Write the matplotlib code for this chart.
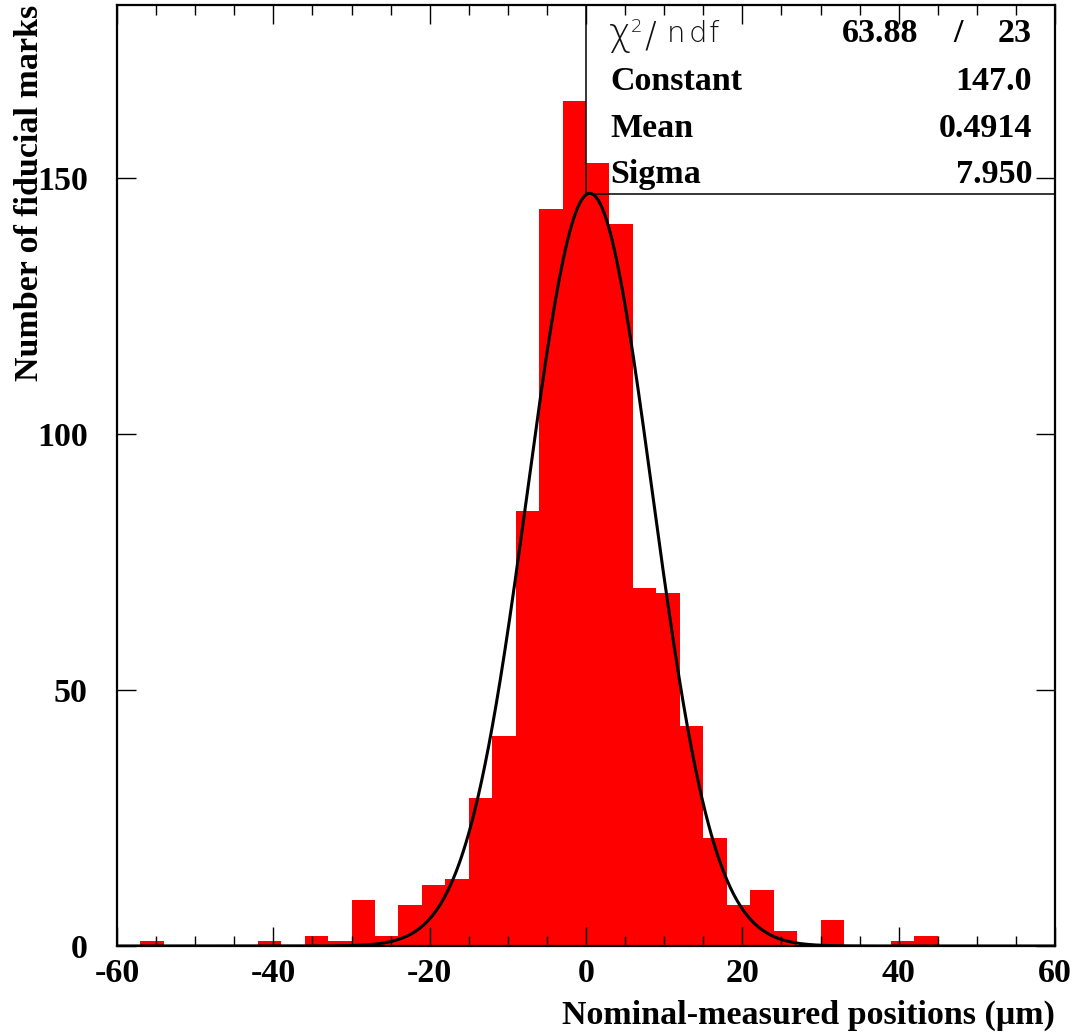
import numpy as np
import matplotlib
matplotlib.use("Agg")
import matplotlib.pyplot as plt
from matplotlib.lines import Line2D
from matplotlib.ticker import MultipleLocator, NullLocator

# ---- data ----
bin_edges = np.arange(-60, 61, 3)
counts = [0, 1, 0, 0, 0, 0, 1, 0, 2, 1,
          9, 2, 8, 12, 13, 29, 41, 85, 144, 165,
          153, 141, 70, 69, 43, 21, 8, 11, 3, 0,
          5, 0, 0, 1, 2, 0, 0, 0, 0, 0]
fit_constant = 147.0
fit_mean = 0.4914
fit_sigma = 7.950
chi2_value = "63.88"
ndf_value = "23"
stat_names = ["Constant", "Mean", "Sigma"]
stat_values = ["147.0", "0.4914", "7.950"]
x_ticks = [-60, -40, -20, 0, 20, 40, 60]
y_ticks = [0, 50, 100, 150]
xlabel = "Nominal-measured positions (\u03bcm)"
ylabel = "Number of fiducial marks"

plt.rcParams['axes.unicode_minus'] = False
SERIF = ['Liberation Serif', 'DejaVu Serif']
FS = 24.5

W, H = 1082, 1036
fig = plt.figure(figsize=(W / 100, H / 100), dpi=100)
L, R, T, B = 117, 1055, 5, 946
ax = fig.add_axes([L / W, 1 - B / H, (R - L) / W, (B - T) / H])

ax.stairs(counts, bin_edges, fill=True, color='#ff0000', linewidth=0)

xf = np.linspace(-60, 60, 1200)
yf = fit_constant * np.exp(-0.5 * ((xf - fit_mean) / fit_sigma) ** 2)
ax.plot(xf, yf, color='black', linewidth=2.2, solid_capstyle='round')

ax.set_xlim(-60, 60)
ax.set_ylim(0, (B - T) / 5.12)
ax.set_xticks(x_ticks)
ax.set_yticks(y_ticks)
ax.xaxis.set_minor_locator(MultipleLocator(5))
ax.yaxis.set_minor_locator(NullLocator())
ax.tick_params(axis='both', which='both', direction='in', top=True, right=True,
               width=1.0, color='black')
ax.tick_params(axis='x', which='major', length=14, pad=9)
ax.tick_params(axis='x', which='minor', length=7)
ax.tick_params(axis='y', which='major', length=14, pad=21)
for lab in ax.get_xticklabels() + ax.get_yticklabels():
    lab.set_fontfamily(SERIF)
    lab.set_fontweight('bold')
    lab.set_fontsize(FS)
for sp in ax.spines.values():
    sp.set_linewidth(1.6)

# axis titles
fig.text(R / W, 1 - 1015 / H, xlabel, ha='right', va='center',
         family=SERIF, fontweight='bold', fontsize=FS)
fig.text(30 / W, 1 - T / H, ylabel, ha='center', va='top', rotation=90,
         family=SERIF, fontweight='bold', fontsize=FS)

# stats box (transparent)
bx0 = (586 - L) / (R - L)
by0 = (B - 194) / (B - T)
ax.add_line(Line2D([bx0, bx0], [by0, 1], transform=ax.transAxes, color='black', lw=1.1, clip_on=False))
ax.add_line(Line2D([bx0, 1], [by0, by0], transform=ax.transAxes, color='black', lw=1.1, clip_on=False))

def fx(px):
    return px / W

def fy(py):
    return 1 - py / H

THIN = dict(family=['DejaVu Sans'], fontweight='light', color='#111111')
fig.text(fx(609), fy(45), "\u03c7", fontsize=27, va='baseline', ha='left', **THIN)
fig.text(fx(631), fy(32), "2", fontsize=13, va='baseline', ha='left', **THIN)
fig.text(fx(644), fy(47), "/", fontsize=25, va='baseline', ha='left', **THIN)
for ch, px in zip("ndf", [667, 689, 709]):
    fig.text(fx(px), fy(42), ch, fontsize=21, va='baseline', ha='left', **THIN)

fig.text(fx(918), fy(42), chi2_value, ha='right', va='baseline', family=SERIF, fontweight='bold', fontsize=FS)
fig.text(fx(958), fy(42), "/", ha='center', va='baseline', family=SERIF, fontweight='bold', fontsize=FS)
fig.text(fx(1032), fy(42), ndf_value, ha='right', va='baseline', family=SERIF, fontweight='bold', fontsize=FS)

baselines = [90, 137, 183]
for name, val, yb in zip(stat_names, stat_values, baselines):
    fig.text(fx(610), fy(yb), name, ha='left', va='baseline', family=SERIF, fontweight='bold', fontsize=FS)
    fig.text(fx(1032), fy(yb), val, ha='right', va='baseline', family=SERIF, fontweight='bold', fontsize=FS)

fig.savefig("out.png", dpi=100)
